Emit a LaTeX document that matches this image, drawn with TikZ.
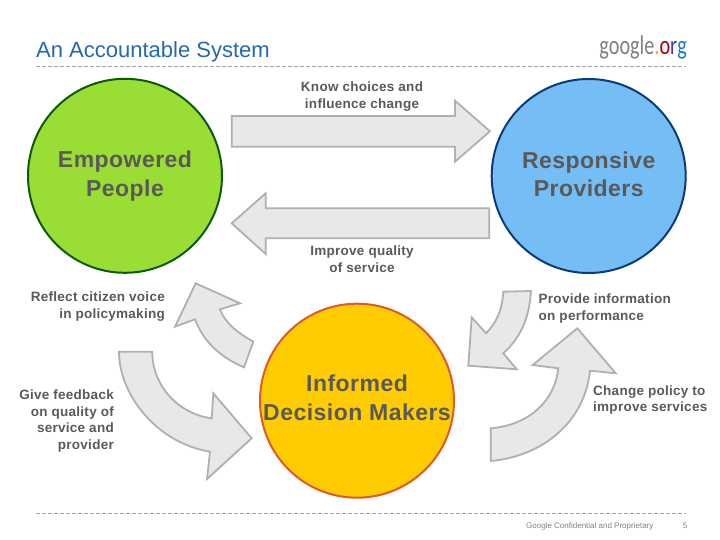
\documentclass[tikz,border=0pt]{standalone}
\usepackage{fontspec}
\setmainfont{Liberation Sans}
\newfontfamily\logofont{Carlito}
\definecolor{labelgray}{HTML}{595959}
\definecolor{titleblue}{HTML}{2468B0}
\definecolor{arrowfill}{HTML}{E8E8E8}
\definecolor{arrowline}{HTML}{B0B0B0}
\definecolor{peoplefill}{HTML}{9ADE35}
\definecolor{peopleline}{HTML}{0B5B0B}
\definecolor{providerfill}{HTML}{75BEF5}
\definecolor{providerline}{HTML}{0B3C78}
\definecolor{makerfill}{HTML}{FFCC00}
\definecolor{makerline}{HTML}{DD5A2B}
\newcommand{\topstrut}{\rule{0pt}{20pt}}
\newcommand{\botstrut}[1]{\rule[-#1pt]{0pt}{#1pt}}
\tikzset{
  actor/.style={circle,draw,line width=2pt,inner sep=0pt,outer sep=0pt,minimum size=194pt,align=center,
    text=labelgray,font=\fontsize{23}{28.4}\selectfont\bfseries\addfontfeature{LetterSpace=2}},
  blockarrow/.style={draw=arrowline,fill=arrowfill,line width=1.8pt,line join=miter},
  flowlabel/.style={text=labelgray,inner sep=0pt,font=\fontsize{13.5}{16.8}\selectfont\bfseries\addfontfeature{LetterSpace=2}},
  rulerline/.style={draw=gray!70,line width=0.7pt,dash pattern=on 4pt off 2pt}
}
\begin{document}
\begin{tikzpicture}[x=1pt,y=-1pt]
  \useasboundingbox (0,0) rectangle (720,540);
  % header and footer
  \node[anchor=base west,inner sep=0pt,text=titleblue,font=\fontsize{22}{26}\selectfont] (title) at (36,57.5) {An Accountable System};
  \node[anchor=base east,inner sep=0pt,text=gray,font=\logofont\fontsize{27}{30}\selectfont] (logo) at (687,55) {\scalebox{.75}[1]{google\textcolor{orange!70!yellow}{.}\textcolor{red!70!black}{o}\textcolor{blue!55!gray}{r}\textcolor{cyan!60!blue}{g}}};
  \coordinate (topleft) at (36,66);
  \coordinate (topright) at (686,66);
  \coordinate (botleft) at (36,513);
  \coordinate (botright) at (686,513);
  \draw[rulerline] (topleft) -- (topright);
  \draw[rulerline] (botleft) -- (botright);
  \node[anchor=base west,inner sep=0pt,text=gray,font=\fontsize{8}{10}\selectfont] (footer) at (526,528) {Google Confidential and Proprietary};
  \node[anchor=base,inner sep=0pt,text=gray,font=\fontsize{8}{10}\selectfont] (pageno) at (685,528) {5};
  % the three circles
  \node[actor,fill=peoplefill,draw=peopleline] (people) at (125,175.8) {\topstrut Empowered\\People\botstrut{7.5}};
  \node[actor,fill=providerfill,draw=providerline] (providers) at (588.7,176) {\topstrut Responsive\\Providers\botstrut{7.5}};
  \node[actor,fill=makerfill,draw=makerline] (makers) at (357,400.7) {\topstrut Informed\\\makebox[170pt]{Decision Makers}\botstrut{9.5}};
  % straight arrows
  \draw[blockarrow] (231.7,116) -- (455,116) -- (455,100.7) -- (490,131.3) -- (455,161.7) -- (455,146.7) -- (231.7,146.7) -- cycle;
  \draw[blockarrow] (489.3,208.3) -- (265.7,208.3) -- (265.7,193.3) -- (231.7,223.3) -- (265.7,254) -- (265.7,238.3) -- (489.3,238.3) -- cycle;
  % curved arrows on the left
  \draw[blockarrow] (244,367.3) .. controls (222,358) and (204,343) .. (195,319.3) -- (175,326.7) -- (195.7,283.3) -- (240,303.3) -- (220,309.3) .. controls (226,325) and (240,334) .. (253.3,341.7) -- cycle;
  \draw[blockarrow] (119,351.7) .. controls (119,395) and (157,443) .. (210,451.7) -- (207,479) -- (251.7,438.3) -- (213.3,393.3) -- (211.7,418.3) .. controls (178,414) and (152,385) .. (152.3,351.7) -- cycle;
  % curved arrows on the right
  \draw[blockarrow] (490.7,461) .. controls (545,456) and (585,420) .. (590,370.7) -- (615.7,373.3) -- (577.3,328.3) -- (532.7,365) -- (558.3,368.3) .. controls (555,400) and (530,425) .. (490.7,428.3) -- cycle;
  \draw[blockarrow] (531,291) .. controls (529,320) and (520,338) .. (503.3,353.3) -- (516.7,369.3) -- (468.3,365.7) -- (471.7,317.3) -- (486,333.3) .. controls (497,322) and (502,310) .. (503.3,291.7) -- cycle;
  % arrow labels
  \node[flowlabel,align=center] (know) at (362,96.5) {Know choices and\\influence change};
  \node[flowlabel,align=center] (improve) at (362,259.5) {Improve quality\\of service};
  \node[flowlabel,align=right,anchor=east] (reflect) at (165,306.5) {Reflect citizen voice\\in policymaking};
  \node[flowlabel,align=right,anchor=east] (feedback) at (114,421) {Give feedback\\on quality of\\service and\\provider};
  \node[flowlabel,align=left,anchor=west] (provide) at (538.5,308.5) {Provide information\\on performance};
  \node[flowlabel,align=left,anchor=west] (change) at (593,400) {Change policy to\\improve services};
\end{tikzpicture}
\end{document}
